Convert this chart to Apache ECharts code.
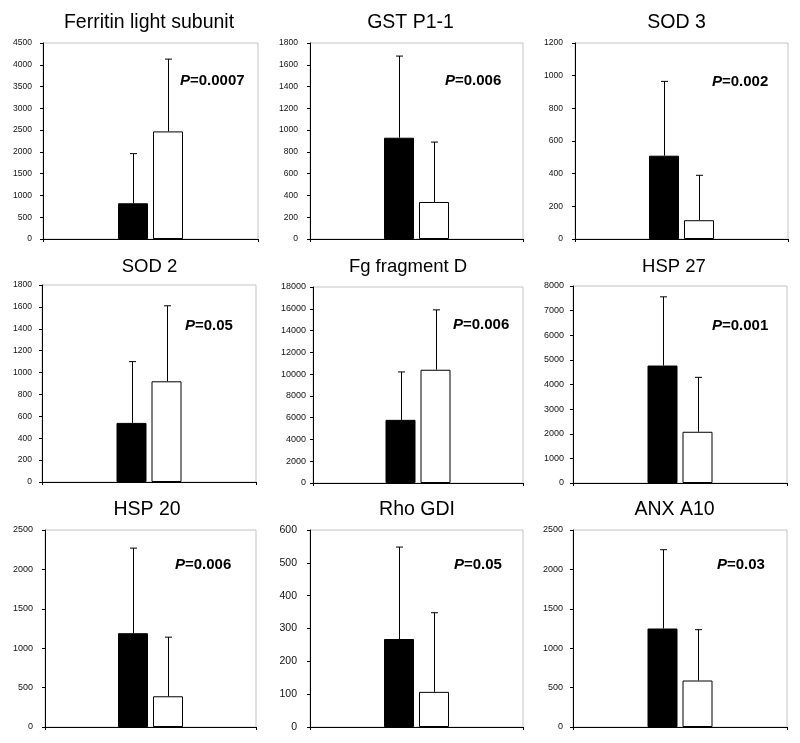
<!DOCTYPE html>
<html><head><meta charset="utf-8">
<script src="https://cdn.jsdelivr.net/npm/echarts@6/dist/echarts.min.js"></script>
<style>html,body{margin:0;padding:0;background:#fff}#c{width:800px;height:743px}</style>
</head><body><div id="c"></div><script>
// ---- data ----
const titles = ['Ferritin light subunit','GST P1-1','SOD 3','SOD 2','Fg fragment D','HSP 27','HSP 20','Rho GDI','ANX A10'];
const pValues = ['0.0007','0.006','0.002','0.05','0.006','0.001','0.006','0.05','0.03'];
const blackMean = [820, 930, 510, 540, 5800, 4770, 1190, 268, 1250];
const blackSD   = [1140, 750, 455, 560, 4400, 2790, 1080, 280, 1000];
const whiteMean = [2470, 340, 115, 920, 10400, 2080, 390, 107, 590];
const whiteSD   = [1660, 550, 275, 690, 5500, 2210, 750, 241, 645];
const yMax  = [4500, 1800, 1200, 1800, 18000, 8000, 2500, 600, 2500];
const yStep = [500, 200, 200, 200, 2000, 1000, 500, 100, 500];

// ---- layout / style ----
const gridBoxes = [[43,43,215,196],[310,43,213,196],[575,43,213,196],
                   [42,285,214,197],[313,287,210,196],[573,286,214,197],
                   [45,530,211,197],[310,530,213,197],[573,530,214,197]];
const titlePos = [[149,23],[410.5,23],[676.5,23],[149.5,266.5],[408,266.5],[674,266.5],[147,510],[417,510],[674.5,510]];
const titleSize = [19.5,19.5,19.5,18.5,18.5,18.5,19.5,19.5,19.5];
const pPos = [[180,81],[445,81],[712,82],[185,326],[453,325],[712,326],[175,565],[454,565],[717,565]];
const labelSize = [8.5,8.5,8.5,8.5,9,9,9,10.5,9];
const labelMargin = [11,12,12,10,7,9,12,13,10];
const BAR_W = 30, BAR_GAP = 5;
const FONT = '"Liberation Sans", Arial, sans-serif';

const grid = [], xAxis = [], yAxis = [], series = [], graphic = [];
titles.forEach((t, i) => {
  const [l, tp, w, h] = gridBoxes[i];
  grid.push({left: l, top: tp, width: w, height: h, show: true, borderColor: '#c4c4c4', borderWidth: 1, backgroundColor: 'transparent'});
  xAxis.push({type: 'category', gridIndex: i, data: [''], boundaryGap: true,
    axisLine: {lineStyle: {color: '#000', width: 1}},
    axisTick: {show: true, length: 3, lineStyle: {color: '#000'}},
    axisLabel: {show: false}, splitLine: {show: false}});
  yAxis.push({type: 'value', gridIndex: i, min: 0, max: yMax[i], interval: yStep[i],
    axisLine: {show: true, lineStyle: {color: '#000', width: 1}},
    axisTick: {show: true, length: 3, lineStyle: {color: '#000'}},
    axisLabel: {fontSize: labelSize[i], color: '#111', fontFamily: FONT, margin: labelMargin[i],
      formatter: v => String(v)},
    splitLine: {show: false}});
  series.push({type: 'bar', xAxisIndex: i, yAxisIndex: i, data: [blackMean[i]], barWidth: BAR_W,
    barGap: (BAR_GAP / BAR_W * 100) + '%',
    itemStyle: {color: '#000', borderColor: '#000', borderWidth: 1}, silent: true, animation: false});
  series.push({type: 'bar', xAxisIndex: i, yAxisIndex: i, data: [whiteMean[i]], barWidth: BAR_W,
    barGap: (BAR_GAP / BAR_W * 100) + '%',
    itemStyle: {color: '#fff', borderColor: '#000', borderWidth: 1}, silent: true, animation: false});
  series.push({type: 'custom', xAxisIndex: i, yAxisIndex: i, animation: false, silent: true, z: 5,
    data: [[0, blackMean[i], blackMean[i] + blackSD[i], -1], [0, whiteMean[i], whiteMean[i] + whiteSD[i], 1]],
    renderItem: function (params, api) {
      const off = api.value(3) * (BAR_W + BAR_GAP) / 2;
      const p0 = api.coord([api.value(0), api.value(1)]);
      const p1 = api.coord([api.value(0), api.value(2)]);
      const x = Math.round(p0[0] + off) + 0.5;
      return {type: 'group', children: [
        {type: 'line', shape: {x1: x, y1: p0[1], x2: x, y2: p1[1]}, style: {stroke: '#000', lineWidth: 1}},
        {type: 'line', shape: {x1: x - 3.5, y1: p1[1], x2: x + 3.5, y2: p1[1]}, style: {stroke: '#000', lineWidth: 1}}
      ]};
    }});
  graphic.push({type: 'text', x: titlePos[i][0], y: titlePos[i][1], silent: true,
    style: {text: t, fill: '#000', font: titleSize[i] + 'px ' + FONT, align: 'center', verticalAlign: 'middle'}});
  graphic.push({type: 'text', x: pPos[i][0], y: pPos[i][1], silent: true,
    style: {text: '{i|P}{b|=' + pValues[i] + '}', fill: '#000', align: 'left', verticalAlign: 'middle',
      rich: {i: {fontStyle: 'italic', fontWeight: 'bold', fontSize: 15, fontFamily: FONT, fill: '#000'},
             b: {fontWeight: 'bold', fontSize: 15, fontFamily: FONT, fill: '#000'}}}});
});

const chart = echarts.init(document.getElementById('c'), null, {renderer: 'canvas'});
chart.setOption({backgroundColor: '#fff', animation: false, grid, xAxis, yAxis, series, graphic});
</script></body></html>
